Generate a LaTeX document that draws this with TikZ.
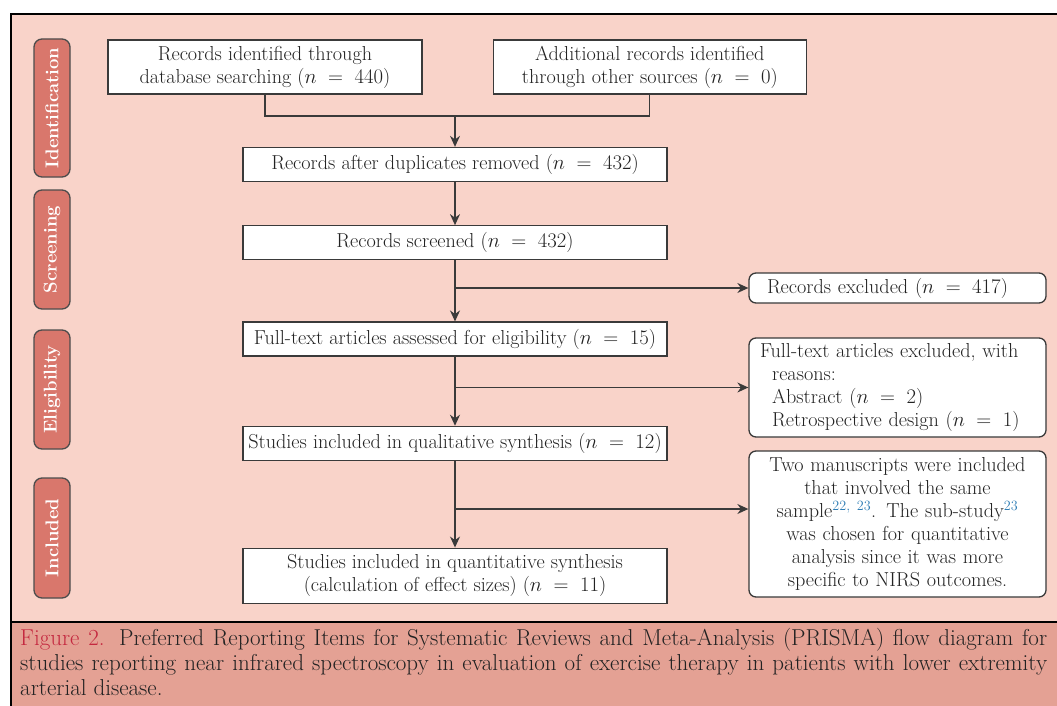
\documentclass[tikz,border=0pt]{standalone}
\usepackage{amsmath,amssymb}
\usepackage{xcolor}
\usepackage{tikz}
\usetikzlibrary{arrows.meta, positioning, calc}
\definecolor{panelpink}{HTML}{F9D3C9}
\definecolor{captionrose}{HTML}{E4A194}
\definecolor{stagered}{HTML}{D9776C}
\definecolor{edgegray}{HTML}{3A3A3A}
\definecolor{inkgray}{HTML}{222222}
\definecolor{figred}{HTML}{C4283F}
\definecolor{refblue}{HTML}{2E7DB5}
\newcommand{\boxfont}{\fontsize{20.2}{23}\selectfont}
\newcommand{\stagefont}{\fontsize{18.5}{20}\selectfont\bfseries}
\newcommand{\capfont}{\fontsize{23}{25}\selectfont}
\newcommand{\nval}[1]{$n\;=\;#1$}
\tikzset{
  box/.style={rectangle, draw=edgegray, line width=1.3pt, fill=white, text=inkgray, align=center, inner sep=2pt, font=\boxfont},
  widebox/.style={box, minimum width=424pt, minimum height=34pt},
  sidebox/.style={box, rounded corners=7pt, minimum width=297pt},
  stage/.style={rectangle, rounded corners=8pt, draw=black!70, line width=1.3pt, fill=stagered, text=white, font=\stagefont, rotate=90, minimum height=36pt, inner sep=0pt},
  arrow/.style={line width=1.3pt, draw=edgegray, -{Stealth[length=11pt, width=10pt]}},
  link/.style={line width=1.3pt, draw=edgegray}
}

\begin{document}
\begin{tikzpicture}[x=1pt, y=-1pt]
    \useasboundingbox (0,0) rectangle (1057,706);
    % Panel and caption band
    \fill[panelpink] (11,14) rectangle (1057,622);
    \fill[captionrose] (11,622) rectangle (1057,706);
    \draw[line width=1.5pt] (1057,14) -- (11,14) -- (11,706);
    \draw[line width=2.2pt] (11,622) -- (1057,622);

    % Stages
    \node[stage, minimum width=138pt] (ident) at (52,108) {Identification};
    \node[stage, minimum width=119pt] (screen) at (52,249.5) {Screening};
    \node[stage, minimum width=119pt] (elig) at (52,389.5) {Eligibility};
    \node[stage, minimum width=120pt] (incl) at (52,538) {Included};

    % Nodes
    \node[box, minimum width=314pt, minimum height=54pt] (dbsearch) at (265,67) {Records identified through\\database searching (\nval{440})};
    \node[box, minimum width=313pt, minimum height=54pt, right=70pt of dbsearch] (othersrc) {Additional records identified\\through other sources (\nval{0})};
    \node[widebox] (dedup) at (455,164.5) {Records after duplicates removed (\nval{432})};
    \node[widebox, below=43pt of dedup] (screened) {Records screened (\nval{432})};
    \node[widebox, below=61pt of screened] (fulltext) {Full-text articles assessed for eligibility (\nval{15})};
    \node[widebox, below=69pt of fulltext] (qualit) {Studies included in qualitative synthesis (\nval{12})};
    \node[widebox, minimum height=55pt, below=86.5pt of qualit] (quantit) {Studies included in quantitative synthesis\\(calculation of effect sizes) (\nval{11})};

    \node[sidebox, align=left, text width=261pt, inner xsep=18pt, minimum height=30pt] (recexcl) at (897.5,288) {Records excluded (\nval{417})};
    \node[sidebox, align=left, text width=275pt, inner xsep=11pt, minimum height=99pt] (fullexcl) at (897.5,387.5) {Full-text articles excluded, with\\\hspace*{0.6em}reasons:\\\hspace*{0.6em}Abstract (\nval{2})\\\hspace*{0.6em}Retrospective design (\nval{1})};
    \node[sidebox, text width=285pt, minimum height=146pt] (twoms) at (897.5,524) {Two manuscripts were included\\that involved the same\\sample\textsuperscript{\color{refblue}22, 23}. The sub-study\textsuperscript{\color{refblue}23}\\was chosen for quantitative\\analysis since it was more\\specific to NIRS outcomes.};

    % Arrows
    \coordinate (merge) at (455,116);
    \coordinate (split) at (455,509);
    \draw[link] (dbsearch.south) |- (merge) -| (othersrc.south);
    \draw[arrow] (merge) -- (dedup);
    \draw[arrow] (dedup) -- (screened);
    \draw[arrow] (screened) -- (fulltext);
    \draw[arrow] (fulltext) -- (qualit);
    \draw[arrow] (qualit) -- (quantit);
    \draw[arrow] (screened.south |- recexcl.west) -- (recexcl.west);
    \draw[arrow] (fulltext.south |- fullexcl.west) -- (fullexcl.west);
    \draw[arrow] (split) -- (split -| twoms.west);

    % Caption
    \node[anchor=north west, inner sep=0pt, text width=1027pt, align=justify, font=\capfont, text=inkgray] (caption) at (20,628) {\textcolor{figred}{Figure 2.} Preferred Reporting Items for Systematic Reviews and Meta-Analysis (PRISMA) flow diagram for\linebreak studies reporting near infrared spectroscopy in evaluation of exercise therapy in patients with lower extremity\linebreak arterial disease.};
\end{tikzpicture}
\end{document}
